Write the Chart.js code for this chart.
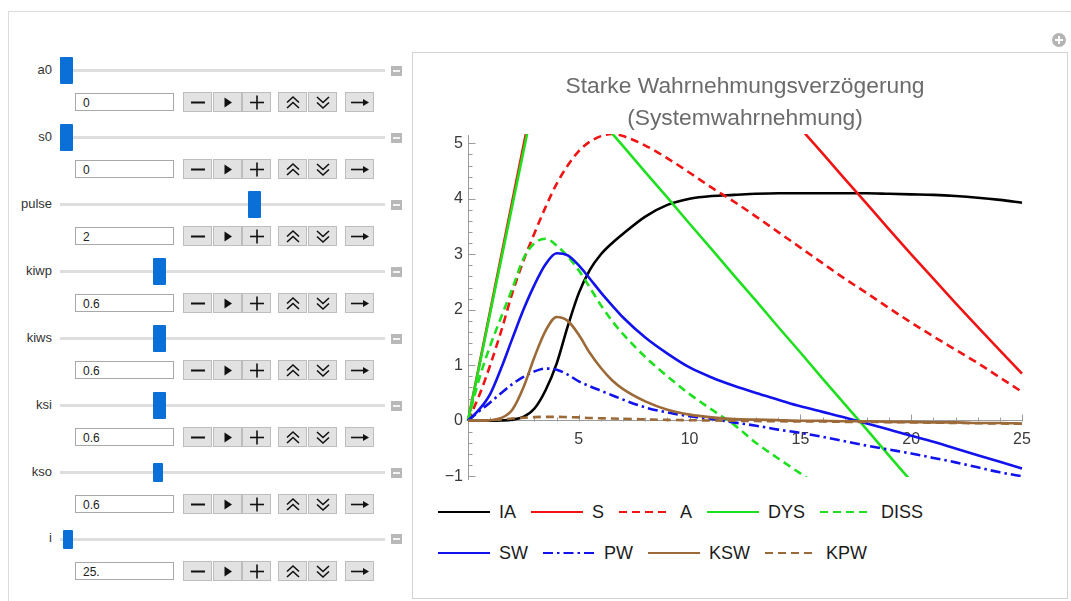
<!DOCTYPE html>
<html>
<head>
<meta charset="utf-8">
<script src="https://cdn.jsdelivr.net/npm/chart.js@4.4.1/dist/chart.umd.min.js"></script>
<style>
html,body{margin:0;padding:0;background:#fff;width:1071px;height:601px;overflow:hidden;}
body{position:relative;font-family:"Liberation Sans",Arial,sans-serif;}
#outer{position:absolute;left:8px;top:11px;width:1100px;height:640px;border-left:1px solid #dcdcdc;border-top:1px solid #dcdcdc;}
#plotFrame{position:absolute;left:412px;top:52px;width:654px;height:545px;border:1px solid #d2d2d2;}
#plusIcon{position:absolute;left:1052px;top:33px;width:14px;height:14px;border-radius:50%;background:#b4b4b4;}
#plusIcon:before{content:"";position:absolute;left:3px;top:6px;width:8px;height:2px;background:#fff;}
#plusIcon:after{content:"";position:absolute;left:6px;top:3px;width:2px;height:8px;background:#fff;}
#chartBox{position:absolute;left:423px;top:60px;width:619px;height:434px;}
.lbl{position:absolute;width:46px;text-align:right;font-size:13px;color:#333;height:16px;line-height:16px;}
.track{position:absolute;left:60px;width:325px;height:3px;background:#dedede;}
.thumb{position:absolute;background:#0a70d8;border-radius:1px;}
.mini{position:absolute;left:391px;width:11px;height:10px;background:#b8b8b8;}
.mini:after{content:"";position:absolute;left:2px;top:4px;width:7px;height:2px;background:#f4f4f4;}
.inp{position:absolute;left:75px;width:97px;height:16px;border:1px solid #a9a9a9;background:#fff;font-size:12px;line-height:16px;color:#222;box-sizing:content-box;}
.inp span{position:absolute;left:7px;top:1px;}
.btn{position:absolute;width:27px;height:18px;background:#e2e2e2;border:1px solid #bdbdbd;}
.btn svg{position:absolute;left:0;top:0;}
#legend{position:absolute;left:438px;top:0;}
.lrow{position:absolute;left:0;display:flex;align-items:center;height:22px;white-space:nowrap;}
.litem{display:flex;align-items:center;margin-right:15px;}
.litem svg{margin-right:9px;}
.litem span{font-size:18px;color:#1c1c1c;line-height:22px;}
</style>
</head>
<body>
<div id="outer"></div>
<div id="plusIcon"></div>
<div id="plotFrame"></div>
<div id="controls"></div>
<div id="chartBox"><canvas id="c"></canvas></div>
<div id="legend"></div>
<script>
// ---- chart data ----
const T = [0,0.5,1,1.5,2,2.5,3,3.5,4,4.5,5,5.5,6,6.5,7,8,9,10,11,12,13,14,15,16,17,18,19,20,21,22,23,24,25];
const IA   = [0,0,0,0.005,0.02,0.07,0.22,0.55,1.03,1.7,2.3,2.72,3.0,3.2,3.37,3.68,3.89,4.0,4.05,4.07,4.09,4.1,4.1,4.1,4.1,4.1,4.09,4.08,4.07,4.05,4.02,3.98,3.93];
const S    = [0,0.99,1.98,2.97,3.96,4.95,5.94,null,null,null,null,null,null,null,null,null,null,null,null,null,null,null,5.27,4.82,4.36,3.91,3.45,3.0,2.56,2.12,1.69,1.27,0.85];
const A    = [0,0.45,1.0,1.62,2.3,2.88,3.38,3.85,4.27,4.6,4.86,5.03,5.13,5.17,5.13,4.96,4.73,4.47,4.2,3.95,3.68,3.4,3.12,2.84,2.56,2.3,2.03,1.77,1.52,1.28,1.04,0.78,0.52];
const DYS  = [0,0.97,1.94,2.91,3.88,4.85,5.82,null,null,null,null,null,null,5.18,4.95,4.48,4.02,3.55,3.09,2.62,2.16,1.69,1.23,0.76,0.3,-0.16,-0.63,-1.09,null,null,null,null,null];
const DISS = [0,0.75,1.35,1.87,2.38,2.92,3.2,3.28,3.16,2.96,2.71,2.4,2.08,1.8,1.56,1.15,0.8,0.48,0.2,-0.07,-0.4,-0.68,-0.95,-1.22,null,null,null,null,null,null,null,null,null];
const SW   = [0,0.2,0.48,0.95,1.48,2.0,2.45,2.82,3.02,2.98,2.8,2.56,2.31,2.08,1.86,1.5,1.21,0.96,0.78,0.63,0.5,0.38,0.26,0.16,0.06,-0.05,-0.16,-0.27,-0.38,-0.5,-0.62,-0.74,-0.86];
const PW   = [0,0.17,0.33,0.5,0.66,0.79,0.89,0.94,0.92,0.83,0.71,0.62,0.54,0.46,0.38,0.24,0.15,0.08,0.03,-0.03,-0.09,-0.16,-0.22,-0.29,-0.37,-0.45,-0.52,-0.59,-0.67,-0.75,-0.84,-0.93,-1.0];
const KSW  = [0,0,0.01,0.05,0.2,0.6,1.15,1.62,1.87,1.8,1.55,1.22,0.95,0.73,0.57,0.35,0.2,0.11,0.06,0.03,0.02,0.01,0,0,-0.01,-0.01,-0.02,-0.02,-0.03,-0.03,-0.04,-0.04,-0.05];
const KPW  = [0,0.005,0.01,0.025,0.04,0.055,0.065,0.07,0.07,0.065,0.06,0.05,0.045,0.04,0.035,0.025,0.015,0.01,0.005,0,-0.005,-0.01,-0.012,-0.015,-0.02,-0.022,-0.025,-0.03,-0.035,-0.04,-0.045,-0.05,-0.055];
const SERIES_NAMES = ['IA','S','A','DYS','DISS','SW','PW','KSW','KPW'];
const X_TICKS = [5,10,15,20,25];
const Y_TICKS = [-1,0,1,2,3,4,5];
const TITLE_LINES = ['Starke Wahrnehmungsverzögerung','(Systemwahrnehmung)'];

// ---- control panel values ----
const CTRL_NAMES  = ['a0','s0','pulse','kiwp','kiws','ksi','kso','i'];
const CTRL_VALUES = ['0','0','2','0.6','0.6','0.6','0.6','25.'];

// ---- styles ----
const RED = '#f01414', GREEN = '#1fe01f', BLUE = '#1212ec', BROWN = '#9c6a38';
const STYLE = {
  IA:  {color:'#000000', dash:[]},
  S:   {color:RED, dash:[], straight:true},
  A:   {color:RED, dash:[8,5]},
  DYS: {color:GREEN, dash:[], straight:true},
  DISS:{color:GREEN, dash:[8,5]},
  SW:  {color:BLUE, dash:[]},
  PW:  {color:BLUE, dash:[10,4,2.5,4]},
  KSW: {color:BROWN, dash:[]},
  KPW: {color:BROWN, dash:[8,5]}
};
const VALUES = {IA, S, A, DYS, DISS, SW, PW, KSW, KPW};

const datasets = SERIES_NAMES.map((name, i) => ({
  label: name,
  data: T.map((t, k) => ({x: t, y: VALUES[name][k]})),
  borderColor: STYLE[name].color,
  borderDash: STYLE[name].dash,
  borderWidth: 2.6,
  pointRadius: 0,
  fill: false,
  spanGaps: false,
  tension: STYLE[name].straight ? 0 : 0.4,
  cubicInterpolationMode: STYLE[name].straight ? 'default' : 'monotone',
  order: SERIES_NAMES.length - i,
  clip: {left: 2, top: 1, right: 2, bottom: -2}
}));

const Y_MIN = -1.05, Y_MAX = 5.15, X_MIN = 0, X_MAX = 25;

const mathTicks = {
  id: 'mathTicks',
  beforeDatasetsDraw(chart) {
    const {ctx, scales: {x, y}} = chart;
    const y0 = Math.round(y.getPixelForValue(0)) + 0.5;
    const x0 = Math.round(x.getPixelForValue(0)) + 0.5;
    ctx.save();
    ctx.strokeStyle = '#9c9c9c';
    ctx.lineWidth = 1;
    ctx.beginPath();
    for (let v = 1; v <= X_MAX; v++) {
      const px = Math.round(x.getPixelForValue(v)) + 0.5;
      const len = v % 5 === 0 ? 7 : 4;
      ctx.moveTo(px, y0); ctx.lineTo(px, y0 - len);
    }
    for (let k = -5; k <= 25; k++) {
      const v = k / 5;
      if (v < Y_MIN || v > Y_MAX) continue;
      const py = Math.round(y.getPixelForValue(v)) + 0.5;
      const len = k % 5 === 0 ? 7 : 4;
      ctx.moveTo(x0, py); ctx.lineTo(x0 + len, py);
    }
    ctx.stroke();
    ctx.restore();
  }
};

Chart.defaults.font.family = '"Liberation Sans", Arial, sans-serif';

const chart = new Chart(document.getElementById('c'), {
  type: 'line',
  data: {datasets},
  options: {
    responsive: true,
    maintainAspectRatio: false,
    animation: false,
    events: [],
    layout: {padding: {left: 0, right: 20, top: 0, bottom: 15}},
    scales: {
      x: {
        type: 'linear',
        min: X_MIN, max: X_MAX,
        position: {y: 0},
        afterBuildTicks: s => { s.ticks = X_TICKS.map(v => ({value: v})); },
        grid: {display: true, drawOnChartArea: false, drawTicks: false},
        border: {display: true, color: '#9c9c9c', width: 1},
        ticks: {color: '#3a3a3a', font: {size: 16}, padding: 9, autoSkip: false, maxRotation: 0,
                callback: v => String(v)}
      },
      y: {
        type: 'linear',
        min: Y_MIN, max: Y_MAX,
        position: 'left',
        afterFit: s => { s.width = 45; },
        afterBuildTicks: s => { s.ticks = Y_TICKS.map(v => ({value: v})); },
        grid: {display: true, drawOnChartArea: false, drawTicks: false},
        border: {display: true, color: '#9c9c9c', width: 1},
        ticks: {color: '#3a3a3a', font: {size: 16}, padding: 5,
                callback: v => (v < 0 ? '\u2212' + Math.abs(v) : String(v))}
      }
    },
    plugins: {
      legend: {display: false},
      tooltip: {enabled: false},
      title: {
        display: true,
        text: TITLE_LINES,
        color: '#6b6b6b',
        fullSize: false,
        font: {size: 22.8, weight: 'normal', lineHeight: 32 / 22.8},
        padding: {top: 11, bottom: 0}
      }
    }
  },
  plugins: [mathTicks]
});

// ---- HTML legend built from the chart datasets ----
(function buildLegend() {
  const rows = [[0,1,2,3,4],[5,6,7,8]];
  const rowTops = [501, 542];
  const leg = document.getElementById('legend');
  rows.forEach((idxs, r) => {
    const row = document.createElement('div');
    row.className = 'lrow';
    row.style.top = rowTops[r] + 'px';
    idxs.forEach(i => {
      const ds = chart.data.datasets[i];
      const item = document.createElement('div');
      item.className = 'litem';
      const dash = (ds.borderDash || []).join(',');
      item.innerHTML = '<svg width="52" height="6"><line x1="0" y1="3" x2="52" y2="3" stroke="' + ds.borderColor +
        '" stroke-width="2.2"' + (dash ? ' stroke-dasharray="' + dash + '"' : '') + '/></svg><span>' + ds.label + '</span>';
      row.appendChild(item);
    });
    leg.appendChild(row);
  });
})();

// ---- Manipulate-style control panel ----
(function buildControls() {
  const THUMB_CX = [66, 66, 254, 159.5, 159.5, 159.5, 158, 68];
  const SMALL = [false, false, false, false, false, false, true, true];
  const ICONS = [
    '<line x1="7" y1="9.5" x2="21" y2="9.5" stroke="#111" stroke-width="2"/>',
    '<polygon points="10.5,4.5 18,9.5 10.5,14.5" fill="#111"/>',
    '<line x1="7" y1="9.5" x2="21" y2="9.5" stroke="#111" stroke-width="1.6"/><line x1="14" y1="2.5" x2="14" y2="16.5" stroke="#111" stroke-width="1.6"/>',
    '<polyline points="8,9.5 14,4 20,9.5" fill="none" stroke="#111" stroke-width="1.6"/><polyline points="8,15 14,9.5 20,15" fill="none" stroke="#111" stroke-width="1.6"/>',
    '<polyline points="8,4 14,9.5 20,4" fill="none" stroke="#111" stroke-width="1.6"/><polyline points="8,9.5 14,15 20,9.5" fill="none" stroke="#111" stroke-width="1.6"/>',
    '<line x1="5" y1="9.5" x2="19" y2="9.5" stroke="#111" stroke-width="1.6"/><polygon points="17,6 23,9.5 17,13" fill="#111"/>'
  ];
  const BTN_X = [183, 213, 242, 278, 308, 345];
  const box = document.getElementById('controls');
  let html = '';
  CTRL_NAMES.forEach((name, k) => {
    const sy = 70.7 + 66.97 * k;
    html += '<div class="lbl" style="left:6px;top:' + (sy - 9) + 'px">' + name + '</div>';
    html += '<div class="track" style="top:' + (sy - 1.5) + 'px"></div>';
    const w = SMALL[k] ? 10 : 13, h = SMALL[k] ? 19 : 27;
    html += '<div class="thumb" style="left:' + (THUMB_CX[k] - w / 2) + 'px;top:' + (sy - h / 2) + 'px;width:' + w + 'px;height:' + h + 'px"></div>';
    html += '<div class="mini" style="top:' + (sy - 5) + 'px"></div>';
    html += '<div class="inp" style="top:' + (sy + 22.5) + 'px"><span>' + CTRL_VALUES[k] + '</span></div>';
    BTN_X.forEach((bx, b) => {
      html += '<div class="btn" style="left:' + bx + 'px;top:' + (sy + 21.5) + 'px"><svg width="28" height="19">' + ICONS[b] + '</svg></div>';
    });
  });
  box.innerHTML = html;
})();
</script>
</body>
</html>
